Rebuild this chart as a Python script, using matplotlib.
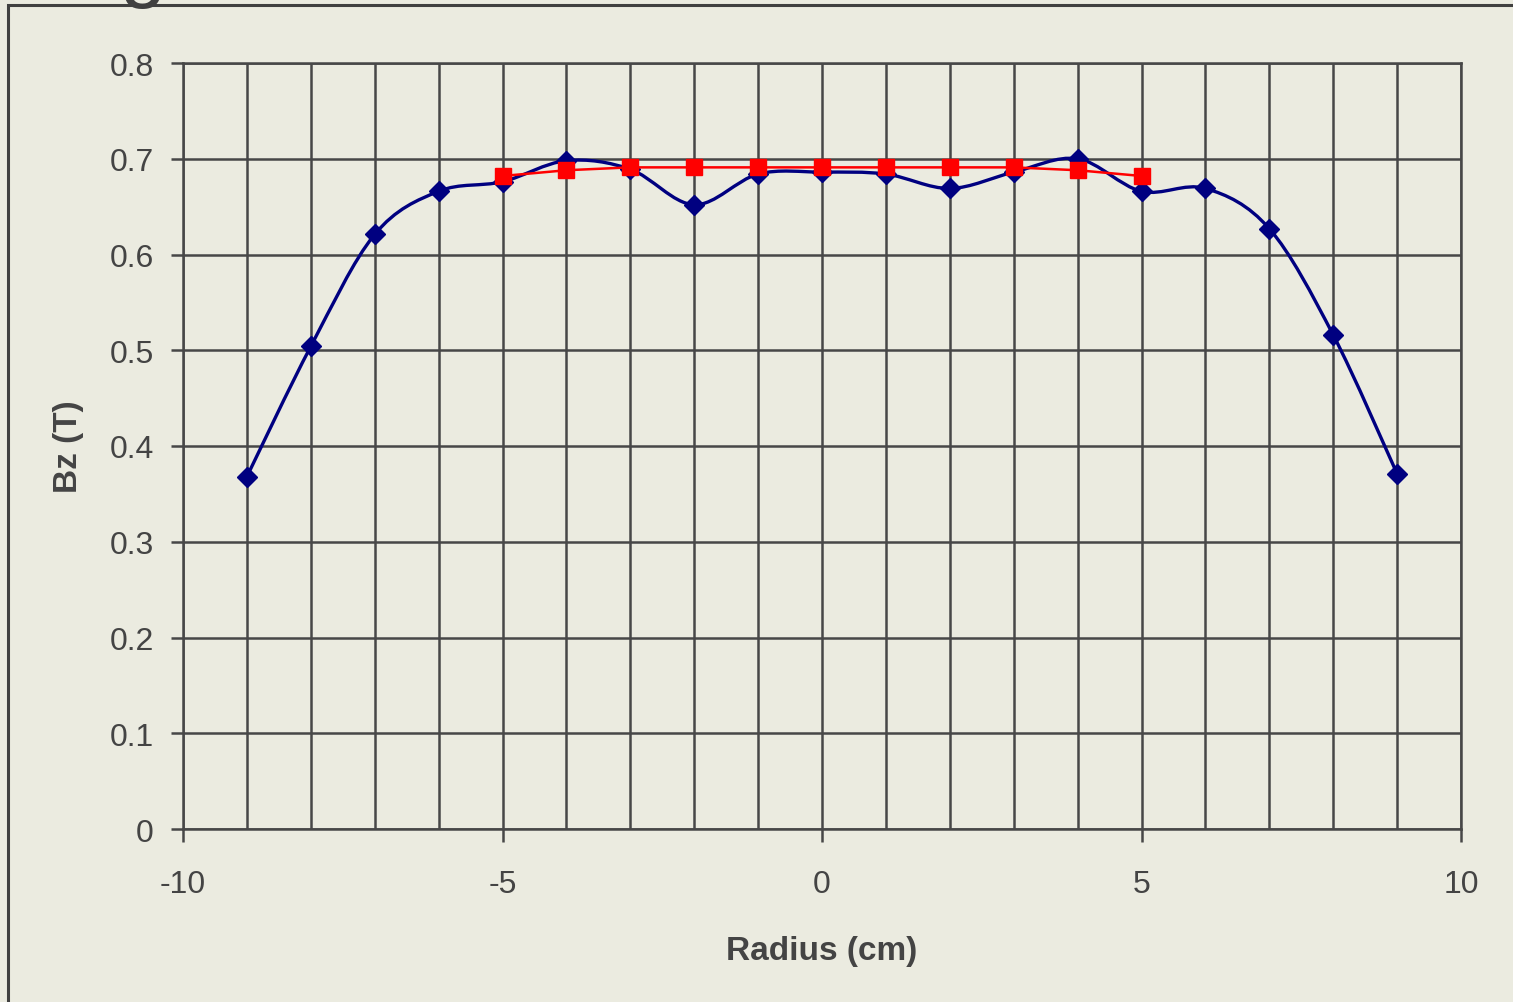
import matplotlib
matplotlib.use("Agg")
import matplotlib.pyplot as plt
from matplotlib.path import Path
from matplotlib.patches import PathPatch, Rectangle
import numpy as np

plt.rcParams["font.family"] = ["Liberation Sans", "DejaVu Sans"]
plt.rcParams["axes.unicode_minus"] = False

# 測定データ（Bz vs 半径）
radius_meas = [-9, -8, -7, -6, -5, -4, -3, -2, -1, 0, 1, 2, 3, 4, 5, 6, 7, 8, 9]
bz_meas = [0.368, 0.504, 0.621, 0.666, 0.676, 0.698, 0.689, 0.652, 0.684, 0.686,
           0.684, 0.669, 0.686, 0.700, 0.666, 0.669, 0.627, 0.516, 0.371]

# 計算データ
radius_calc = [-5, -4, -3, -2, -1, 0, 1, 2, 3, 4, 5]
bz_calc = [0.682, 0.688, 0.691, 0.691, 0.691, 0.691, 0.691, 0.691, 0.691, 0.688, 0.682]

x_ticks = [-10, -5, 0, 5, 10]
y_ticks = [0, 0.1, 0.2, 0.3, 0.4, 0.5, 0.6, 0.7, 0.8]

BG = "#EBEBE0"
GRID = "#474747"
TEXT = "#444444"
NAVY = "#000080"
RED = "#FF0000"


def smooth_path(xs, ys):
    """Excel風のスムージング線（ベジェ曲線）"""
    pts = np.column_stack([xs, ys]).astype(float)
    n = len(pts)
    verts = [pts[0]]
    codes = [Path.MOVETO]
    for i in range(n - 1):
        p0 = pts[max(i - 1, 0)]
        p1 = pts[i]
        p2 = pts[i + 1]
        p3 = pts[min(i + 2, n - 1)]
        c1 = p1 + (p2 - p0) / 6
        c2 = p2 - (p3 - p1) / 6
        verts += [c1, c2, p2]
        codes += [Path.CURVE4] * 3
    return Path(verts, codes)


fig = plt.figure(figsize=(15.13, 10.03), dpi=100, facecolor=BG)
ax = fig.add_axes([183 / 1513, 1 - 830 / 1003, (1461 - 183) / 1513, (830 - 64) / 1003])
ax.set_facecolor(BG)

# 外枠
fig.patches.append(Rectangle((8 / 1513, -0.1), 1.2, 1.1 - 6 / 1003, transform=fig.transFigure,
                             fill=False, edgecolor="#404040", linewidth=2.2, zorder=0))
# 上端で切れたタイトル文字
fig.text(0.0945, 1.008, "g", fontsize=60, color="#404040", ha="center", va="baseline")

ax.set_xlim(-10, 10)
ax.set_ylim(0, 0.8)
ax.set_xticks(x_ticks)
ax.set_xticks(np.arange(-10, 11, 1), minor=True)
ax.set_yticks(y_ticks)
ax.set_yticklabels(["0" if v == 0 else f"{v:.1f}" for v in y_ticks])
ax.grid(True, which="both", axis="x", color=GRID, linewidth=1.8)
ax.grid(True, which="major", axis="y", color=GRID, linewidth=1.8)
ax.set_axisbelow(True)
ax.tick_params(which="major", length=9, width=1.8, color=GRID, labelsize=23,
               labelcolor=TEXT, pad=12)
ax.tick_params(which="minor", length=0)
ax.tick_params(axis="x", pad=20)
for s in ax.spines.values():
    s.set_color(GRID)
    s.set_linewidth(1.8)

# 測定値（スムージング線）
ax.add_patch(PathPatch(smooth_path(radius_meas, bz_meas), facecolor="none",
                       edgecolor=NAVY, linewidth=2.4, zorder=3))
ax.plot(radius_meas, bz_meas, linestyle="none", marker="D", markersize=10.5,
        color=NAVY, zorder=4)

# 計算値
ax.plot(radius_calc, bz_calc, color=RED, linewidth=1.8, marker="s",
        markersize=11.5, zorder=5)

ax.set_xlabel("Radius (cm)", fontsize=24, fontweight="bold", color=TEXT, labelpad=26)
ax.set_ylabel("Bz (T)", fontsize=24, fontweight="bold", color=TEXT, labelpad=18)

fig.savefig("out.png", dpi=100, facecolor=BG)
